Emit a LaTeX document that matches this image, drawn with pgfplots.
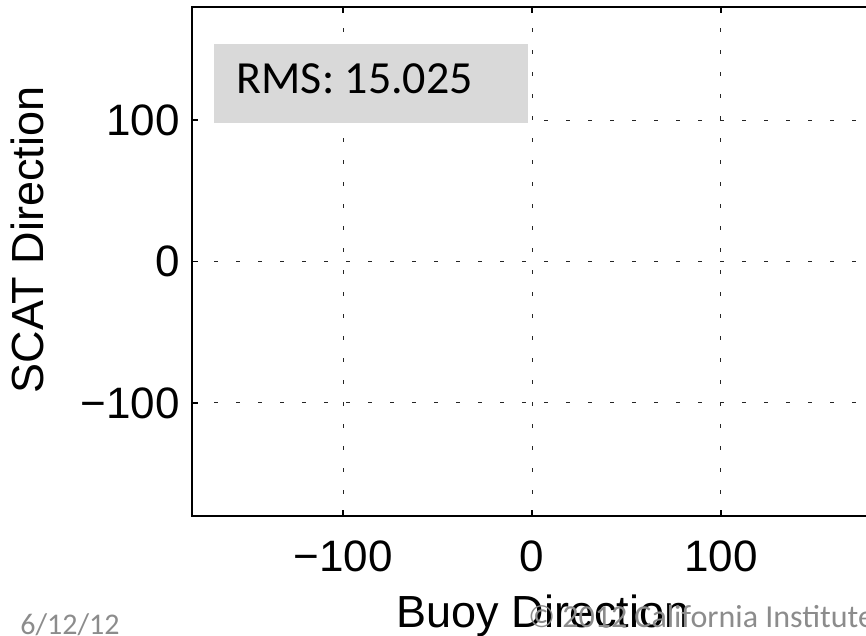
\documentclass[border=0pt]{standalone}
\usepackage{fontspec}
\setmainfont{Liberation Sans}
\newfontfamily\carlito{Carlito}
\usepackage{pgfplots}
\pgfplotsset{compat=1.18}
\definecolor{rmsgray}{HTML}{D9D9D9}
\definecolor{footgray}{HTML}{8C8C8C}
\begin{document}
\begin{tikzpicture}
\path[use as bounding box] (0,0) rectangle (433pt,318pt);
\clip (0,0) rectangle (433pt,318pt);
\begin{axis}[
  at={(96pt,60pt)}, anchor=south west,
  scale only axis, width=340pt, height=254.5pt,
  xmin=-180, xmax=180, ymin=-180, ymax=180,
  xtick={-100,0,100}, ytick={-100,0,100},
  xticklabels={−100,0,100}, yticklabels={−100,0,100},
  tick align=inside, major tick length=3pt,
  xtick pos=both, ytick pos=both,
  axis line style={line width=1pt},
  every tick/.style={black, line width=0.8pt},
  grid=major,
  major grid style={black!85, line width=0.5pt, dash pattern=on 2pt off 9pt},
  tick label style={font=\fontsize{22}{26}\selectfont},
  xticklabel style={inner sep=0pt, anchor=north, yshift=-12pt},
  yticklabel style={inner sep=0pt, anchor=east, xshift=-6pt},
  xlabel={Buoy Direction}, ylabel={SCAT Direction},
  every axis x label/.style={at={(axis description cs:0.516,-0.22)}, anchor=base, font=\fontsize{22.5}{27}\selectfont},
  every axis y label/.style={at={(axis description cs:-0.219,0.542)}, rotate=90, anchor=base, font=\fontsize{22.5}{27}\selectfont},
]
\fill[rmsgray] (axis cs:-168.3,98.3) rectangle (axis cs:-2.1,153.5);
\node[anchor=base west, inner sep=0pt, font=\carlito\fontsize{23}{27}\selectfont]
  at (axis cs:-156.6,118.5) {RMS: 15.025};
\end{axis}
\node[anchor=base west, inner sep=0pt, text=footgray, font=\carlito\fontsize{15}{18}\selectfont] at (10pt,0.8pt) {6/12/12};
\node[anchor=base west, inner sep=0pt, text=footgray, font=\carlito\fontsize{16}{18}\selectfont] at (264pt,4pt) {© 2012 California Institute of Technology};
\end{tikzpicture}
\end{document}
